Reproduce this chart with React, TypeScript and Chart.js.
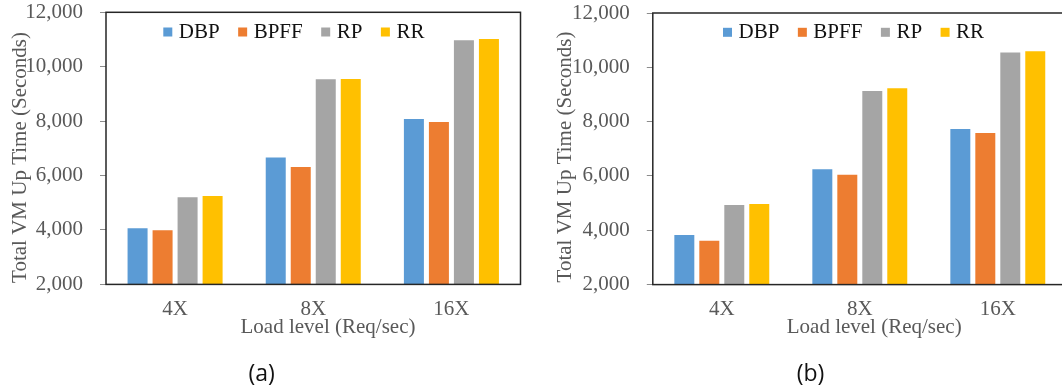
import { useEffect, useRef } from "react";
import { Chart, registerables } from "chart.js";

Chart.register(...registerables);

// Shared labels
const categories = ["4X", "8X", "16X"];
const seriesNames = ["DBP", "BPFF", "RP", "RR"];
const seriesColors = ["#5B9BD5", "#ED7D31", "#A5A5A5", "#FFC000"];
const yTickValues = [2000, 4000, 6000, 8000, 10000, 12000];
const yTitle = "Total VM Up Time (Seconds)";
const xTitle = "Load level (Req/sec)";

// Panel (a) values, seconds
const dbpA = [4060, 6660, 8080];
const bpffA = [3990, 6310, 7970];
const rpA = [5200, 9540, 10970];
const rrA = [5250, 9550, 11020];

// Panel (b) values, seconds
const dbpB = [3830, 6250, 7730];
const bpffB = [3610, 6040, 7580];
const rpB = [4930, 9130, 10550];
const rrB = [4970, 9230, 10590];

const SERIF = '"Liberation Serif", "Times New Roman", serif';
const GREY = "#595959";

// Frame, legend, axis titles and caption drawn on top of the bars
const panelDecor = {
  id: "panelDecor",
  afterDatasetsDraw(chart: any, _args: any, opts: any) {
    const { ctx, chartArea: a } = chart;
    ctx.save();

    ctx.strokeStyle = "#262626";
    ctx.lineWidth = 1.5;
    ctx.strokeRect(a.left, a.top, a.right - a.left, a.bottom - a.top);

    ctx.font = `21px ${SERIF}`;
    ctx.textBaseline = "middle";
    ctx.textAlign = "left";
    let x = opts.legendX;
    chart.data.datasets.forEach((ds: any) => {
      ctx.fillStyle = ds.backgroundColor;
      ctx.fillRect(x, opts.legendY - 4.5, 9, 9);
      x += 9 + 6.5;
      ctx.fillStyle = "#111";
      ctx.fillText(ds.label, x, opts.legendY);
      x += ctx.measureText(ds.label).width + 18.5;
    });

    ctx.fillStyle = GREY;
    ctx.textAlign = "center";
    ctx.fillText(xTitle, opts.xTitleX, opts.xTitleY);

    ctx.save();
    ctx.translate(opts.yTitleX, opts.yTitleY);
    ctx.rotate(-Math.PI / 2);
    ctx.fillText(yTitle, 0, 0);
    ctx.restore();

    ctx.fillStyle = "#111";
    ctx.font = `23px "Open Sans", "Noto Sans", sans-serif`;
    ctx.fillText(opts.caption, opts.captionX, opts.captionY);

    ctx.restore();
  },
};

type Panel = {
  width: number;
  height: number;
  plotLeft: number;
  plotRight: number;
  plotTop: number;
  plotBottom: number;
  legendX: number;
  legendY: number;
  xTitleX: number;
  xTitleY: number;
  yTitleX: number;
  yTitleY: number;
  caption: string;
  captionX: number;
  captionY: number;
  series: number[][];
};

function BarPanel({ p }: { p: Panel }) {
  const ref = useRef<HTMLCanvasElement | null>(null);

  useEffect(() => {
    if (!ref.current) return;
    const chart = new Chart(ref.current, {
      type: "bar",
      data: {
        labels: categories,
        datasets: seriesNames.map((name, i) => ({
          label: name,
          data: p.series[i],
          backgroundColor: seriesColors[i],
          borderWidth: 0,
          barPercentage: 0.8,
          categoryPercentage: 0.724,
        })),
      },
      options: {
        responsive: false,
        animation: false,
        devicePixelRatio: 1,
        layout: {
          padding: {
            left: 0,
            top: p.plotTop,
            right: p.width - p.plotRight,
            bottom: 0,
          },
        },
        plugins: {
          legend: { display: false },
          title: { display: false },
          tooltip: { enabled: false },
          panelDecor: {
            legendX: p.legendX,
            legendY: p.legendY,
            xTitleX: p.xTitleX,
            xTitleY: p.xTitleY,
            yTitleX: p.yTitleX,
            yTitleY: p.yTitleY,
            caption: p.caption,
            captionX: p.captionX,
            captionY: p.captionY,
          },
        } as any,
        scales: {
          x: {
            grid: { display: false, drawTicks: false },
            border: { display: false },
            ticks: {
              color: GREY,
              font: { family: SERIF, size: 21 },
              padding: 12,
            },
            afterFit: (s: any) => {
              s.height = p.height - p.plotBottom;
              s.paddingLeft = 0;
              s.paddingRight = 0;
            },
          },
          y: {
            min: yTickValues[0],
            max: yTickValues[yTickValues.length - 1],
            grid: {
              drawOnChartArea: false,
              drawTicks: true,
              tickLength: 6,
              color: "#8c8c8c",
            },
            border: { display: false },
            afterBuildTicks: (s: any) => {
              s.ticks = yTickValues.map((v) => ({ value: v }));
            },
            ticks: {
              color: GREY,
              font: { family: SERIF, size: 21 },
              padding: 17,
              callback: (v: any) => Number(v).toLocaleString("en-US"),
            },
            afterFit: (s: any) => {
              s.width = p.plotLeft;
              s.paddingTop = 0;
              s.paddingBottom = 0;
            },
          },
        },
      },
      plugins: [panelDecor],
    });
    return () => chart.destroy();
  }, [p]);

  return (
    <canvas
      ref={ref}
      width={p.width}
      height={p.height}
      style={{ width: p.width, height: p.height, display: "block" }}
    />
  );
}

const panelA: Panel = {
  width: 531,
  height: 390,
  plotLeft: 106,
  plotRight: 520.5,
  plotTop: 12.3,
  plotBottom: 284.4,
  legendX: 163.3,
  legendY: 32,
  xTitleX: 328,
  xTitleY: 327,
  yTitleX: 20.5,
  yTitleY: 157.5,
  caption: "(a)",
  captionX: 261.7,
  captionY: 374,
  series: [dbpA, bpffA, rpA, rrA],
};

const panelB: Panel = {
  width: 545,
  height: 390,
  plotLeft: 121.8,
  plotRight: 535.8,
  plotTop: 13,
  plotBottom: 284.6,
  legendX: 192,
  legendY: 32.3,
  xTitleX: 343.2,
  xTitleY: 327,
  yTitleX: 34.6,
  yTitleY: 157,
  caption: "(b)",
  captionX: 279.5,
  captionY: 374,
  series: [dbpB, bpffB, rpB, rrB],
};

export default function App() {
  return (
    <div
      style={{
        position: "absolute",
        left: 0,
        top: 0,
        width: 1062,
        height: 390,
        overflow: "hidden",
        background: "#fff",
      }}
    >
      <div style={{ position: "absolute", left: 0, top: 0 }}>
        <BarPanel p={panelA} />
      </div>
      <div style={{ position: "absolute", left: 531, top: 0 }}>
        <BarPanel p={panelB} />
      </div>
    </div>
  );
}
